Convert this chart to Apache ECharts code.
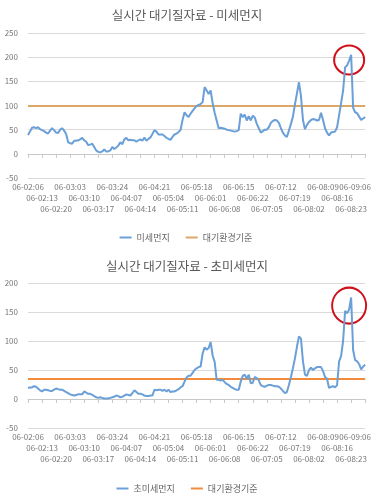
<!DOCTYPE html>
<html><head><meta charset="utf-8">
<script src="https://cdn.jsdelivr.net/npm/echarts@6/dist/echarts.min.js"></script>
<style>html,body{margin:0;padding:0;background:#fff}#c{width:374px;height:500px}</style>
</head><body><div id="c"></div>
<script>
// Hourly readings from 06-02 06:00 to 06-09 06:00 (169 points)
const startDay = 2, startHour = 6, hours = 169;
const tickLabels = ['06-02:06','06-02:13','06-02:20','06-03:03','06-03:10','06-03:17','06-03:24','06-04:07','06-04:14','06-04:21','06-05:04','06-05:11','06-05:18','06-06:01','06-06:08','06-06:15','06-06:22','06-07:05','06-07:12','06-07:19','06-08:02','06-08:09','06-08:16','06-08:23','06-09:06'];
const pm10 = [39,46,54,55,53,55,51,49,47,44,42,48,53,49,44,43,50,53,48,41,
24,22,21,27,27,28,30,33,28,25,18,19,21,14,7,4,3,5,9,5,
5,7,14,10,13,17,24,20,30,33,28,29,28,28,25,28,30,27,34,27,
31,34,41,49,46,40,40,40,37,33,31,29,35,40,42,45,49,70,86,80,
76,83,89,94,99,101,103,107,138,131,124,131,105,85,69,53,54,53,52,50,
49,48,47,46,47,49,83,76,81,69,78,69,79,75,62,53,44,47,50,50,
55,64,68,70,69,64,53,44,38,35,48,62,77,102,125,148,120,70,51,60,
66,70,72,71,69,70,85,70,53,44,38,44,45,46,55,80,105,131,179,183,
193,205,95,86,84,77,70,73,76];
const pm25 = [19,20,20,22,21,18,15,13,16,16,15,14,14,16,18,17,16,16,14,12,
10,8,7,6,7,8,8,8,13,11,9,9,7,5,3,2,3,2,1,1,
1,2,3,4,6,5,3,4,6,8,7,6,10,15,12,9,9,8,6,5,
5,6,6,16,15,16,16,14,16,13,16,12,13,13,15,17,20,22,30,37,
40,40,45,50,53,55,56,78,89,85,88,98,75,64,33,33,32,33,29,26,
24,21,19,17,16,16,30,40,42,35,42,27,28,38,36,32,24,22,21,23,
24,24,23,22,22,21,18,14,10,12,24,38,53,70,90,108,104,65,42,40,
50,54,50,53,55,55,55,48,38,35,19,21,22,20,24,65,74,100,152,148,
154,175,84,67,65,60,51,56,59];
const pm10Standard = 100;
const pm25Standard = 35;
const pm10Peak = ['06-08:22', 194];
const pm25Peak = ['06-08:22', 161];
const titles = ['실시간 대기질자료 - 미세먼지', '실시간 대기질자료 - 초미세먼지'];
const seriesNames = ['미세먼지', '초미세먼지'];
const standardName = '대기환경기준';

const categories = [];
for (let h = 0; h < hours; h++) {
  const t = startHour + h;
  const d = startDay + Math.floor(t / 24);
  const hh = t % 24;
  categories.push('06-0' + d + ':' + String(hh).padStart(2, '0'));
}

const blue = '#6a9fd8';
const font = 'Noto Sans CJK KR, Noto Sans, sans-serif';
const rowMargins = [5, 16, 27, 5];
const last = hours - 1;
function xAxes(gi) {
  const axes = [];
  for (let row = 0; row < 4; row++) {
    axes.push({
      type: 'category', gridIndex: gi, data: categories, boundaryGap: false, position: 'bottom',
      axisLine: { show: row === 0, lineStyle: { color: '#c8c8c8' } },
      axisTick: { show: row === 0, interval: 6, length: 4, lineStyle: { color: '#c8c8c8' } },
      axisLabel: {
        interval: row === 3
          ? function (i) { return i === last; }
          : function (i) { return i % 7 === 0 && (i / 7) % 3 === row && i !== last; },
        padding: row === 3 ? [0, 20, 0, 0] : 0,
        fontSize: 8, color: '#777', fontFamily: font, margin: rowMargins[row],
        formatter: function (v, i) { return tickLabels[Math.round(i / 7)]; }
      },
      splitLine: { show: false }
    });
  }
  return axes;
}
function yAxis(gi, max) {
  return {
    type: 'value', gridIndex: gi, min: -50, max: max, interval: 50,
    axisLine: { show: false }, axisTick: { show: false },
    axisLabel: { fontSize: 8, color: '#777', fontFamily: font, margin: 10 },
    splitLine: { lineStyle: { color: '#dadada', width: 1 } }
  };
}
function circle(coord, size) {
  return {
    symbol: 'circle', symbolSize: size, silent: true,
    itemStyle: { color: 'rgba(0,0,0,0)', borderColor: '#d0101a', borderWidth: 2 },
    label: { show: false },
    data: [{ coord: coord }]
  };
}
const chart = echarts.init(document.getElementById('c'));
chart.setOption({
  animation: false,
  textStyle: { fontFamily: font },
  title: [
    { text: titles[0], left: 'center', top: 4, textStyle: { fontSize: 12.5, fontWeight: 'normal', color: '#595959' } },
    { text: titles[1], left: 'center', top: 255, textStyle: { fontSize: 12.5, fontWeight: 'normal', color: '#595959' } }
  ],
  legend: [
    { data: [seriesNames[0], { name: standardName + ' ' }], top: 228, left: 'center', icon: 'rect', itemWidth: 12, itemHeight: 2,
      textStyle: { fontSize: 9, color: '#666' }, itemGap: 16 },
    { data: [seriesNames[1], standardName], top: 479, left: 'center', icon: 'rect', itemWidth: 12, itemHeight: 2,
      textStyle: { fontSize: 9, color: '#666' }, itemGap: 16 }
  ],
  grid: [
    { left: 28, right: 7, top: 33, height: 145 },
    { left: 28, right: 7, top: 283, height: 145 }
  ],
  xAxis: xAxes(0).concat(xAxes(1)),
  yAxis: [yAxis(0, 250), yAxis(1, 200)],
  series: [
    { name: standardName + ' ', type: 'line', xAxisIndex: 0, yAxisIndex: 0, data: [], color: '#dca868',
      markLine: { silent: true, symbol: 'none', label: { show: false }, lineStyle: { color: '#dca868', width: 2, type: 'solid' }, data: [{ yAxis: pm10Standard }] } },
    { name: seriesNames[0], type: 'line', xAxisIndex: 0, yAxisIndex: 0, data: pm10, color: blue, showSymbol: false, z: 5,
      lineStyle: { width: 2, color: blue }, markPoint: circle(pm10Peak, [30, 29]) },
    { name: standardName, type: 'line', xAxisIndex: 4, yAxisIndex: 1, data: [], color: '#f28a3c',
      markLine: { silent: true, symbol: 'none', label: { show: false }, lineStyle: { color: '#f28a3c', width: 2, type: 'solid' }, data: [{ yAxis: pm25Standard }] } },
    { name: seriesNames[1], type: 'line', xAxisIndex: 4, yAxisIndex: 1, data: pm25, color: blue, showSymbol: false, z: 5,
      lineStyle: { width: 2, color: blue }, markPoint: circle(pm25Peak, [34, 36]) }
  ]
});
</script></body></html>
